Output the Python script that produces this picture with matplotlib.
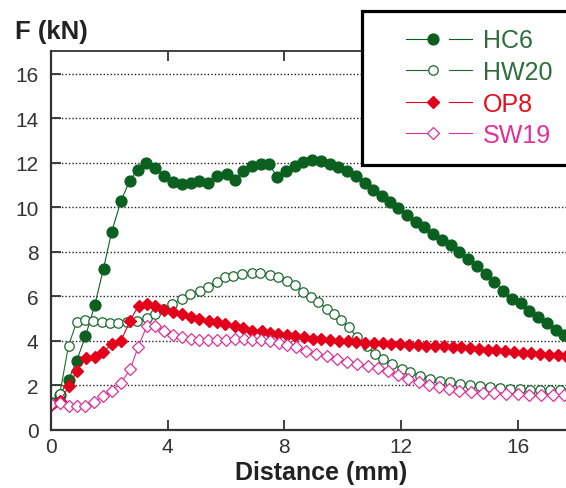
import matplotlib

matplotlib.use("Agg")
import matplotlib.pyplot as plt
from matplotlib.legend_handler import HandlerLine2D
from matplotlib.lines import Line2D

# Force vs distance readings (mm, kN)
hc6_x = [0.05, 0.3, 0.6, 0.88, 1.18, 1.5, 1.8, 2.08, 2.4, 2.7, 2.97, 3.26, 3.58, 3.87,
         4.17, 4.5, 4.79, 5.07, 5.38, 5.69, 6.02, 6.31, 6.58, 6.88, 7.2, 7.47,
         7.76, 8.05, 8.35, 8.65, 8.95, 9.25, 9.55, 9.85, 10.15, 10.45, 10.75, 11.05,
         11.35, 11.62, 11.9, 12.2, 12.5, 12.8, 13.1, 13.4, 13.7, 14.0, 14.3, 14.6,
         14.9, 15.2, 15.5, 15.8, 16.1, 16.4, 16.7, 17.0, 17.3, 17.6, 17.9]
hc6_y = [1.2, 1.55, 2.25, 3.1, 4.2, 5.6, 7.25, 8.9, 10.3, 11.2, 11.7, 12.0, 11.75, 11.4,
         11.15, 11.05, 11.1, 11.2, 11.1, 11.4, 11.5, 11.25, 11.65, 11.85, 11.95, 11.95,
         11.35, 11.65, 11.88, 12.03, 12.12, 12.08, 11.95, 11.8, 11.62, 11.4, 11.1, 10.8,
         10.5, 10.25, 9.95, 9.65, 9.35, 9.1, 8.82, 8.55, 8.3, 8.0, 7.7, 7.35,
         7.0, 6.65, 6.25, 5.9, 5.7, 5.35, 5.05, 4.8, 4.5, 4.25, 4.0]

hw20_x = [0.02, 0.3, 0.6, 0.88, 1.17, 1.45, 1.74, 2.02, 2.3, 2.6, 2.94, 3.28, 3.57, 3.85,
          4.14, 4.48, 4.76, 5.1, 5.39, 5.68, 5.97, 6.25, 6.54, 6.88, 7.16, 7.5, 7.78,
          8.08, 8.37, 8.65, 8.9, 9.15, 9.45, 9.7, 9.95, 10.2, 10.5, 10.82, 11.11, 11.39,
          11.68, 12.02, 12.31, 12.65, 12.99, 13.33, 13.68, 14.02, 14.36, 14.7, 15.05,
          15.39, 15.73, 16.08, 16.42, 16.76, 17.1, 17.44, 17.78]
hw20_y = [1.2, 1.6, 3.78, 4.84, 4.95, 4.9, 4.83, 4.82, 4.8, 4.85, 4.9, 5.02, 5.2, 5.43,
          5.65, 5.88, 6.1, 6.25, 6.4, 6.66, 6.85, 6.93, 7.0, 7.06, 7.05, 6.96, 6.86,
          6.7, 6.5, 6.2, 5.95, 5.75, 5.45, 5.2, 4.95, 4.6, 4.16, 3.78, 3.4, 3.18,
          2.96, 2.73, 2.58, 2.43, 2.28, 2.2, 2.13, 2.06, 2.02, 1.95, 1.91,
          1.87, 1.84, 1.82, 1.8, 1.79, 1.78, 1.78, 1.77]

op8_x = [0.0, 0.3, 0.62, 0.88, 1.2, 1.51, 1.79, 2.08, 2.4, 2.71, 3.0, 3.28, 3.57, 3.87,
         4.19, 4.48, 4.79, 5.07, 5.4, 5.7, 5.97, 6.31, 6.59, 6.9, 7.22, 7.51, 7.78,
         8.08, 8.37, 8.67, 8.97, 9.27, 9.57, 9.87, 10.17, 10.47, 10.77, 11.07, 11.37,
         11.67, 11.97, 12.27, 12.57, 12.87, 13.17, 13.47, 13.77, 14.07, 14.37, 14.67,
         14.97, 15.27, 15.57, 15.87, 16.17, 16.47, 16.77, 17.07, 17.37, 17.67]
op8_y = [1.1, 1.28, 1.95, 2.65, 3.22, 3.28, 3.48, 3.86, 4.0, 4.9, 5.58, 5.66, 5.58, 5.4,
         5.28, 5.2, 5.08, 5.0, 4.9, 4.83, 4.75, 4.65, 4.56, 4.46, 4.42, 4.33, 4.3,
         4.24, 4.2, 4.15, 4.1, 4.07, 4.03, 4.0, 3.97, 3.95, 3.92, 3.9, 3.88,
         3.86, 3.84, 3.82, 3.8, 3.78, 3.77, 3.75, 3.72, 3.7, 3.67, 3.64,
         3.6, 3.57, 3.54, 3.5, 3.47, 3.43, 3.4, 3.37, 3.34, 3.3]

sw19_x = [0.0, 0.3, 0.6, 0.88, 1.17, 1.48, 1.78, 2.08, 2.4, 2.72, 2.98, 3.28, 3.58, 3.88,
          4.17, 4.48, 4.79, 5.08, 5.39, 5.7, 6.0, 6.3, 6.6, 6.9, 7.2, 7.5, 7.8, 8.1,
          8.4, 8.75, 9.1, 9.45, 9.8, 10.15, 10.5, 10.85, 11.2, 11.55, 11.9, 12.25,
          12.6, 12.95, 13.3, 13.65, 14.0, 14.4, 14.8, 15.2, 15.6, 16.0, 16.4, 16.8,
          17.2, 17.6]
sw19_y = [1.15, 1.2, 1.05, 1.05, 1.08, 1.25, 1.5, 1.75, 2.1, 2.73, 3.7, 4.65, 4.65, 4.45,
          4.25, 4.15, 4.08, 4.02, 4.05, 4.05, 4.05, 4.07, 4.1, 4.05, 4.05, 3.98, 3.9, 3.82,
          3.7, 3.55, 3.42, 3.3, 3.18, 3.05, 2.97, 2.88, 2.78, 2.62, 2.45, 2.3,
          2.15, 2.0, 1.9, 1.82, 1.76, 1.71, 1.67, 1.64, 1.62, 1.6, 1.58, 1.57,
          1.56, 1.55]

x_ticks = [0, 4, 8, 12, 16]
y_ticks = [0, 2, 4, 6, 8, 10, 12, 14, 16]


class TailMarkerHandler(HandlerLine2D):
    """Legend entry drawn as  ---o  --  (marker at the end of the line)."""

    def create_artists(self, legend, orig_handle, xdescent, ydescent, width, height,
                       fontsize, trans):
        y = height / 2.0 - ydescent
        x0 = -xdescent
        pieces = []
        seg = Line2D([x0 + 0.29 * width, x0 + 0.58 * width], [y, y])
        mark = Line2D([x0 + 0.58 * width], [y])
        dash = Line2D([x0 + 0.75 * width, x0 + width], [y, y])
        for art in (seg, mark, dash):
            self.update_prop(art, orig_handle, legend)
            art.set_transform(trans)
            pieces.append(art)
        seg.set_marker("")
        dash.set_marker("")
        mark.set_linestyle("")
        return pieces


plt.rcParams["font.family"] = ["Liberation Sans", "DejaVu Sans"]

fig = plt.figure(figsize=(5.66, 4.89), dpi=100)
ax = fig.add_axes([51 / 566, 1 - 430.7 / 489, 540 / 566, 378.4 / 489])

series = [
    (hc6_x, hc6_y, "HC6", dict(color="#0b6020", marker="o", ms=7.8, mfc="#0b6020", mec="#0b6020"), "#2d6e3c"),
    (hw20_x, hw20_y, "HW20", dict(color="#1d6a2f", marker="o", ms=6.8, mfc="white", mec="#1d6a2f", mew=0.9), "#2d6e3c"),
    (op8_x, op8_y, "OP8", dict(color="#e3001b", marker="D", ms=6.6, mfc="#e3001b", mec="#e3001b"), "#e3101c"),
    (sw19_x, sw19_y, "SW19", dict(color="#d8329a", marker="D", ms=6.0, mfc="white", mec="#d8329a", mew=0.9), "#e0309a"),
]

handles = []
for xs, ys, name, style, _ in series:
    line, = ax.plot(xs, ys, lw=0.8, label=name, **style)
    handles.append(line)

ax.set_xlim(0, 18.51)
ax.set_ylim(0, 17.02)
ax.set_xticks(x_ticks)
ax.set_yticks(y_ticks)
ax.tick_params(axis="x", direction="in", length=7, width=1.3, top=True, pad=5,
               labelsize=15, labelcolor="#333333", color="#333333")
ax.tick_params(axis="y", direction="in", length=7, width=1.3, pad=9,
               labelsize=15, labelcolor="#333333", color="#333333")
ax.yaxis.grid(True, linestyle=(0, (1, 1.5)), color="#222222", linewidth=1.0)
ax.set_axisbelow(True)
for side in ["left", "bottom"]:
    ax.spines[side].set_linewidth(1.6)
    ax.spines[side].set_color("#333333")
ax.spines["top"].set_linewidth(1.3)
ax.spines["top"].set_color("#333333")

fig.text(15 / 566, 1 - 39 / 489, "F (kN)", fontsize=18.5, fontweight="bold",
         va="baseline", ha="left", color="#222222")
fig.text(321 / 566, 1 - 480 / 489, "Distance (mm)", fontsize=18, fontweight="bold",
         va="baseline", ha="center", color="#222222")

leg = ax.legend(
    handles=handles,
    handler_map={h: TailMarkerHandler() for h in handles},
    loc="upper left",
    bbox_to_anchor=(362 / 566, 0, 0.6, 1 - 12 / 489),
    bbox_transform=fig.transFigure,
    mode="expand",
    borderaxespad=0,
    fontsize=18,
    handlelength=3.7,
    handletextpad=0.45,
    labelspacing=0.3,
    borderpad=0.7,
    fancybox=False,
    framealpha=1,
    edgecolor="black",
)
leg.get_frame().set_linewidth(2.3)
for text, (_, _, _, _, tcolor) in zip(leg.get_texts(), series):
    text.set_color(tcolor)

fig.savefig("out.png", dpi=100)
